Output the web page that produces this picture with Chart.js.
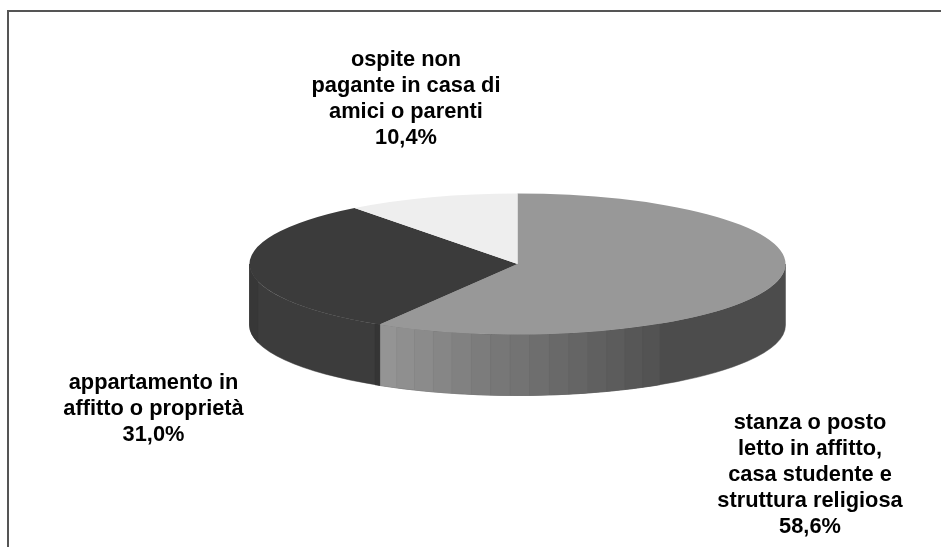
<!DOCTYPE html>
<html lang="it">
<head>
<meta charset="utf-8">
<title>Sistemazione</title>
<script src="https://cdn.jsdelivr.net/npm/chart.js@4/dist/chart.umd.min.js"></script>
<style>
  html, body { margin:0; padding:0; background:#fff; }
  #wrap { position:relative; width:941px; height:547px; overflow:hidden; }
  #frame { position:absolute; left:7px; top:10px; width:940px; height:545px;
           border-left:2px solid #555; border-top:2px solid #555; }
  canvas { display:block; }
</style>
</head>
<body>
<div id="wrap">
  <div id="frame"></div>
  <canvas id="chart" width="941" height="547"></canvas>
</div>
<script>
// Dati
const categories = [
  'stanza o posto letto in affitto, casa studente e struttura religiosa',
  'appartamento in affitto o proprietà',
  'ospite non pagante in casa di amici o parenti'
];
const values = [58.6, 31.0, 10.4];
const labelLines = [
  ['stanza o posto', 'letto in affitto,', 'casa studente e', 'struttura religiosa'],
  ['appartamento in', 'affitto o proprietà'],
  ['ospite non', 'pagante in casa di', 'amici o parenti']
];

// Stile
const topColors = ['#989898', '#3b3b3b', '#eeeeee'];
const labelCenterX = [810, 153.5, 406];
const labelFirstY = [429, 389, 65.5];
const lineGap = 26;
const squash = 70.5 / 268;
const depth = 61;
const bandStep = 4.2 * Math.PI / 180;
const bandShades = ['#949494','#8f8f8f','#8b8b8b','#868686','#818181','#7c7c7c','#777777','#737373',
                    '#6e6e6e','#696969','#656565','#606060','#5c5c5c','#575757','#535353'];
const wallBase = ['#4c4c4c', '#3c3c3c'];

const pctText = v => v.toFixed(1).replace('.', ',') + '%';

// Pezzo di parete tra due angoli (solo metà anteriore)
function wallPiece(ctx, cx, cy, r, a0, a1, color) {
  const from = Math.max(a0, 0), to = Math.min(a1, Math.PI);
  if (to <= from) return;
  ctx.beginPath();
  ctx.ellipse(cx, cy, r, r * squash, 0, from, to);
  ctx.ellipse(cx, cy + depth, r, r * squash, 0, to, from, true);
  ctx.closePath();
  ctx.fillStyle = color;
  ctx.fill();
  ctx.strokeStyle = color;
  ctx.lineWidth = 0.5;
  ctx.stroke();
}

const pie3d = {
  id: 'pie3d',
  beforeDatasetsDraw(chart) {
    const { ctx } = chart;
    const arcs = chart.getDatasetMeta(0).data;
    const { x: cx, y: cy, outerRadius: r } = arcs[0];
    const grey = arcs[0], dark = arcs[1];

    // parete della fetta grigia: base scura e poi bande sfumate
    wallPiece(ctx, cx, cy, r, grey.startAngle, grey.endAngle, wallBase[0]);
    bandShades.forEach((c, i) => {
      const hi = grey.endAngle - i * bandStep;
      wallPiece(ctx, cx, cy, r, hi - bandStep, hi, c);
    });

    // parete della fetta scura
    wallPiece(ctx, cx, cy, r, dark.startAngle, dark.endAngle, wallBase[1]);
    wallPiece(ctx, cx, cy, r, dark.startAngle, dark.startAngle + 0.02, '#353535');
    wallPiece(ctx, cx, cy, r, Math.PI - 0.25, Math.PI, '#373737');

    // il piano superiore viene schiacciato attorno al centro
    ctx.save();
    ctx.translate(cx, cy);
    ctx.scale(1, squash);
    ctx.translate(-cx, -cy);
  },
  afterDatasetsDraw(chart) {
    const { ctx } = chart;
    ctx.restore();

    ctx.save();
    ctx.font = 'bold 21.8px "Liberation Sans", Arial, sans-serif';
    ctx.fillStyle = '#000';
    ctx.textAlign = 'center';
    ctx.textBaseline = 'alphabetic';
    labelLines.forEach((lines, i) => {
      const all = lines.concat(pctText(values[i]));
      all.forEach((t, k) => ctx.fillText(t, labelCenterX[i], labelFirstY[i] + k * lineGap));
    });
    ctx.restore();
  }
};

new Chart(document.getElementById('chart'), {
  type: 'pie',
  data: {
    labels: categories,
    datasets: [{ data: values, backgroundColor: topColors, borderWidth: 0, clip: false }]
  },
  options: {
    responsive: false,
    animation: false,
    radius: 268,
    rotation: 0,
    layout: { padding: { left: 94, bottom: 19 } },
    plugins: { legend: { display: false }, tooltip: { enabled: false } }
  },
  plugins: [pie3d]
});
</script>
</body>
</html>
